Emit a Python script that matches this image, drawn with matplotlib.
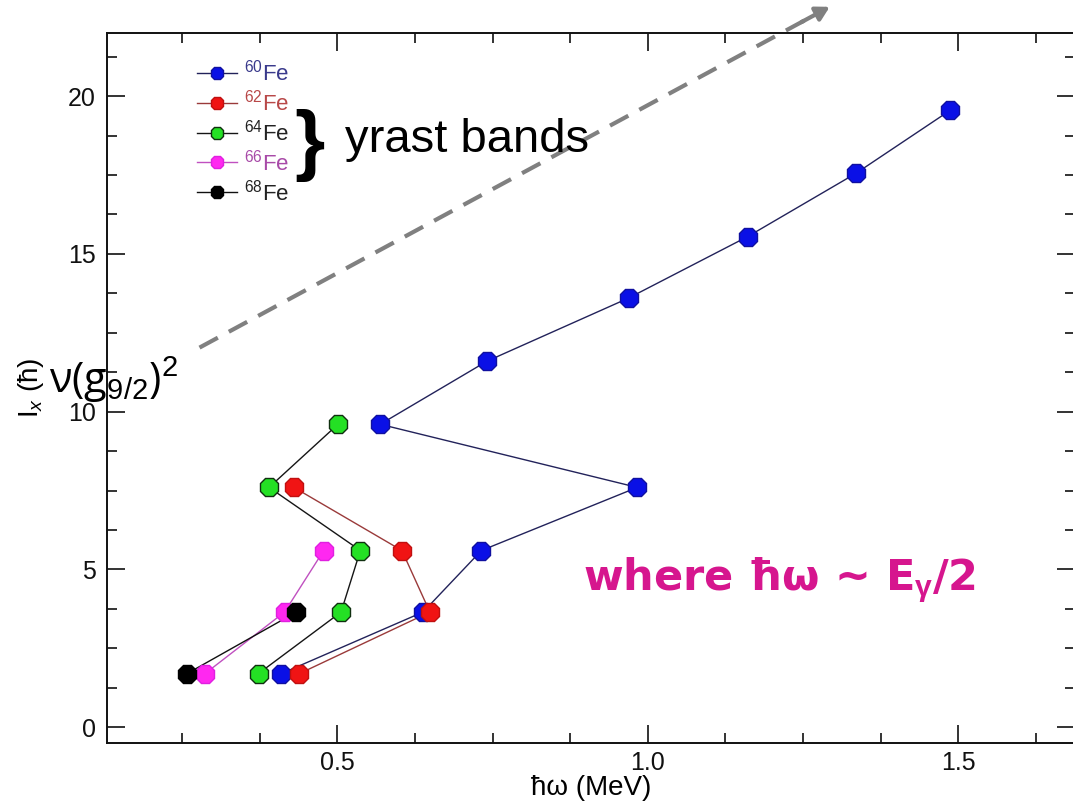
import matplotlib
matplotlib.use('Agg')
import matplotlib.pyplot as plt
from matplotlib.ticker import MultipleLocator
from matplotlib.lines import Line2D

plt.rcParams['font.family'] = ['Liberation Sans', 'DejaVu Sans']
plt.rcParams['mathtext.fontset'] = 'custom'
plt.rcParams['mathtext.rm'] = 'Liberation Sans'
plt.rcParams['mathtext.it'] = 'Liberation Sans:italic'
plt.rcParams['mathtext.bf'] = 'Liberation Sans:bold'

# rotational frequency (MeV) and aligned spin for the Fe yrast bands
ix_60 = [1.7, 3.65, 5.6, 7.6, 9.6, 11.6, 13.6, 15.55, 17.55, 19.55]
hw_60 = [0.410, 0.638, 0.732, 0.983, 0.569, 0.741, 0.969, 1.161, 1.335, 1.487]

ix_62 = [1.7, 3.65, 5.6, 7.6]
hw_62 = [0.439, 0.649, 0.604, 0.430]

ix_64 = [1.7, 3.65, 5.6, 7.6, 9.6]
hw_64 = [0.373, 0.506, 0.537, 0.390, 0.501]

ix_66 = [1.7, 3.65, 5.6]
hw_66 = [0.287, 0.415, 0.478]

ix_68 = [1.7, 3.65]
hw_68 = [0.258, 0.434]

labels = [r'$^{60}$Fe', r'$^{62}$Fe', r'$^{64}$Fe', r'$^{66}$Fe', r'$^{68}$Fe']
face = ['#0a10e6', '#f01414', '#24e024', '#ff28f0', '#000000']
edge = ['#1010a0', '#c01010', '#103010', '#e020e0', '#000000']
line = ['#22225a', '#9a3a3a', '#151515', '#c050c0', '#101010']
text_col = ['#3a3a8c', '#b84848', '#222222', '#a84aa8', '#222222']

fig = plt.figure(figsize=(10.73, 8.10), dpi=100)
ax = fig.add_axes([107 / 1073, 67 / 810, 968 / 1073, 710 / 810])

series = [(hw_60, ix_60), (hw_62, ix_62), (hw_64, ix_64), (hw_66, ix_66), (hw_68, ix_68)]
for (x, y), fc, ec, lc in zip(series, face, edge, line):
    ax.plot(x, y, '-', color=lc, lw=1.0, zorder=2)
    ax.plot(x, y, linestyle='none', marker='8', ms=14.5, mfc=fc, mec=ec,
            mew=1.0, zorder=3)

ax.set_xlim(0.129, 1.688)
ax.set_ylim(-0.5, 22)
ax.xaxis.set_major_locator(MultipleLocator(0.5))
ax.xaxis.set_minor_locator(MultipleLocator(0.125))
ax.yaxis.set_major_locator(MultipleLocator(5))
ax.yaxis.set_minor_locator(MultipleLocator(1.25))
ax.set_xticks([0.5, 1.0, 1.5])
ax.set_xticklabels(['0.5', '1.0', '1.5'])
ax.tick_params(which='both', direction='in', top=True, right=True, width=1.2,
               colors='#111111', labelsize=18)
ax.tick_params(which='major', length=13)
ax.tick_params(which='minor', length=7)
ax.tick_params(axis='x', pad=6)
ax.tick_params(axis='y', pad=8)
for s in ax.spines.values():
    s.set_linewidth(1.4)
    s.set_color('#111111')

ax.set_xlabel('ħω (MeV)', fontsize=20, labelpad=0)
ax.set_ylabel('I$_x$ (ħ)', fontsize=20, labelpad=16)

handles = [Line2D([], [], color=lc, lw=1.0, marker='8', ms=10, mfc=fc, mec=ec)
           for fc, ec, lc in zip(face, edge, line)]
leg = ax.legend(handles, labels, loc='upper left', bbox_to_anchor=(0.084, 0.975),
                frameon=False, fontsize=16, handlelength=1.8, handletextpad=0.3,
                labelspacing=0.18, borderaxespad=0)
for t, c in zip(leg.get_texts(), text_col):
    t.set_color(c)

# annotations
ax.text(0.455, 18.45, '}', fontsize=56, ha='center', va='center', color='black',
        fontweight='bold')
ax.text(0.512, 18.6, 'yrast bands', fontsize=34, ha='left', va='center', color='black')
ax.text(0.036, 11.0, 'ν(g$_{9/2}$)$^2$', fontsize=30, ha='left', va='center',
        color='black', clip_on=False, family=['Open Sans', 'DejaVu Sans'])
ax.text(0.895, 4.67, 'where ħω ~ E$_{\\mathbf{γ}}$/2', fontsize=31, ha='left',
        va='center', color='#d6168e', fontweight='bold',
        family=['DejaVu Sans'])

# dashed arrow leaving the axes
x0, y0, x1, y1 = 0.278, 12.03, 1.293, 22.83
f = 0.965
ax.plot([x0, x0 + f * (x1 - x0)], [y0, y0 + f * (y1 - y0)], color='#808080',
        lw=3.0, linestyle=(0, (5, 3)), clip_on=False, zorder=1)
ax.annotate('', xy=(x1, y1), xytext=(x0 + 0.955 * (x1 - x0), y0 + 0.955 * (y1 - y0)),
            arrowprops=dict(arrowstyle='-|>,head_length=0.8,head_width=0.45',
                            color='#808080', lw=3.0, shrinkA=0, shrinkB=0),
            annotation_clip=False)

fig.savefig('out.png', dpi=100)
